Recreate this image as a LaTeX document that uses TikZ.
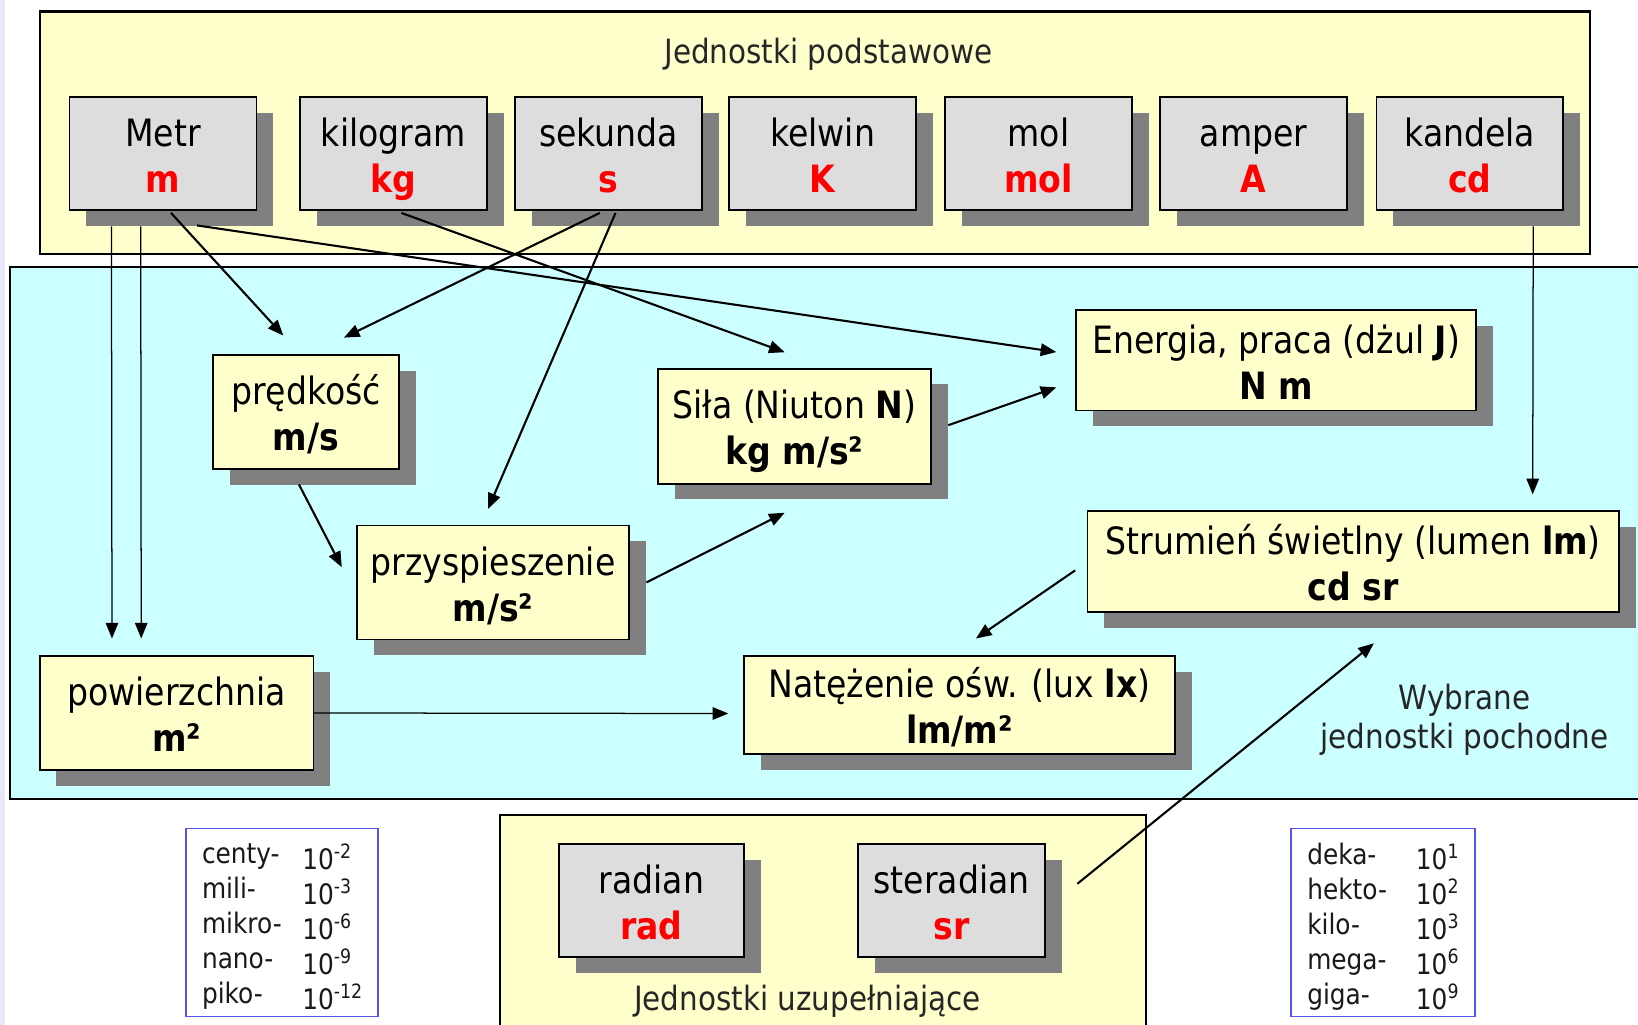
\documentclass[tikz,border=0pt]{standalone}
\usepackage{fontspec}
\setmainfont{DejaVu Sans}[FakeStretch=0.88]
\usetikzlibrary{arrows.meta,shadows,calc}
\definecolor{panelyellow}{HTML}{FFFFCC}
\definecolor{panelcyan}{HTML}{CCFFFF}
\definecolor{boxgray}{HTML}{DDDDDD}
\definecolor{shadowgray}{HTML}{808080}
\definecolor{unitred}{HTML}{FF0000}
\definecolor{prefixblue}{HTML}{5555EE}
\definecolor{edgestrip}{HTML}{E8E8FA}
\tikzset{
 shadowed/.style={drop shadow={shadow xshift=8pt, shadow yshift=-7.5pt, fill=shadowgray, opacity=1}},
 basebox/.style={rectangle, draw=black, line width=0.8pt, fill=boxgray, shadowed, minimum width=89.5pt, minimum height=54pt, inner sep=0pt, font=\fontsize{18}{22}\selectfont},
 derivbox/.style={rectangle, draw=black, line width=0.8pt, fill=panelyellow, shadowed, inner sep=0pt, font=\fontsize{18}{22}\selectfont},
 arr/.style={line width=1pt, -{Triangle[length=7.5pt,width=6pt]}},
 thinarr/.style={line width=0.6pt, -{Triangle[length=7.5pt,width=6pt]}},
 panel/.style={draw=black, line width=1pt},
 paneltitle/.style={font=\fontsize{16}{19}\selectfont, text=black!85, align=center, inner sep=0pt},
 prefixbox/.style={draw=prefixblue, line width=0.8pt, fill=white},
 prefixtext/.style={font=\fontsize{13.5}{16.75}\selectfont, align=left, inner sep=0pt, anchor=west, text=black!90},
}
\newcommand{\unitsym}[1]{\textcolor{unitred}{\textbf{#1}}}
\newcommand{\twolines}[2]{\raisebox{3.5pt}[0pt][0pt]{\begin{tabular}[t]{@{}c@{}}#1\\#2\end{tabular}}}
\begin{document}
\begin{tikzpicture}[x=0.5pt,y=-0.5pt]
\useasboundingbox (0,0) rectangle (1568,981);
\fill[white] (0,0) rectangle (1568,981);
\fill[edgestrip] (0,0) rectangle (5,981);
% panels
\draw[panel, fill=panelyellow] (38,11) rectangle (1522,243);
\draw[panel, fill=panelcyan] (10,256) rectangle (1580,765);
\draw[panel, fill=panelyellow] (479,780) rectangle (1097,995);
\node[paneltitle] (t-base) at (793,52) {Jednostki podstawowe};
\node[paneltitle] (t-deriv) at (1402,689) {Wybrane\\jednostki pochodne};
\node[paneltitle] (t-supp) at (773,958) {Jednostki uzupełniające};
% base units
\node[basebox] (metr) at (156,147) {\twolines{Metr}{\unitsym{m}}};
\node[basebox] (kg) at (376.5,147) {\twolines{kilogram}{\unitsym{kg}}};
\node[basebox] (sek) at (582.5,147) {\twolines{sekunda}{\unitsym{s}}};
\node[basebox] (kel) at (787.5,147) {\twolines{kelwin}{\unitsym{K}}};
\node[basebox] (mol) at (994,147) {\twolines{mol}{\unitsym{mol}}};
\node[basebox] (amp) at (1200,147) {\twolines{amper}{\unitsym{A}}};
\node[basebox] (cd) at (1407,147) {\twolines{kandela}{\unitsym{cd}}};
% derived units
\node[derivbox, minimum width=89pt, minimum height=54.5pt] (pred) at (293,394.5) {\twolines{prędkość}{\textbf{m/s}}};
\node[derivbox, minimum width=130pt, minimum height=54.5pt] (przy) at (472,557.5) {\twolines{przyspieszenie}{\textbf{m/s²}}};
\node[derivbox, minimum width=130.5pt, minimum height=55pt] (sila) at (760.5,408) {\twolines{Siła (Niuton \textbf{N})}{\textbf{kg m/s²}}};
\node[derivbox, minimum width=191.5pt, minimum height=48pt] (energ) at (1221.5,345) {\twolines{Energia, praca (dżul \textbf{J})}{\textbf{N m}}};
\node[derivbox, minimum width=254.5pt, minimum height=48.5pt] (strum) at (1295.5,537.5) {\twolines{Strumień świetlny (lumen \textbf{lm})}{\textbf{cd sr}}};
\node[derivbox, minimum width=206.5pt, minimum height=47pt] (nat) at (918.5,675) {\twolines{Natężenie ośw. (lux \textbf{lx})}{\textbf{lm/m²}}};
\node[derivbox, minimum width=131pt, minimum height=54.5pt] (pow) at (169,682.5) {\twolines{powierzchnia}{\textbf{m²}}};
% supplementary units
\node[basebox, minimum width=88.5pt] (rad) at (623.5,862) {\twolines{radian}{\unitsym{rad}}};
\node[basebox] (ster) at (911,862) {\twolines{steradian}{\unitsym{sr}}};
% prefix tables
\draw[prefixbox] (178,793) rectangle (362,973);
\draw[prefixbox] (1236,793) rectangle (1412,973);
\node[prefixtext] (pl-names) at (193,887) {centy-\\mili-\\mikro-\\nano-\\piko-};
\node[prefixtext] (pl-vals) at (289,887) {10\textsuperscript{-2}\\10\textsuperscript{-3}\\10\textsuperscript{-6}\\10\textsuperscript{-9}\\10\textsuperscript{-12}};
\node[prefixtext] (pr-names) at (1251,887) {deka-\\hekto-\\kilo-\\mega-\\giga-};
\node[prefixtext] (pr-vals) at (1355,887) {10\textsuperscript{1}\\10\textsuperscript{2}\\10\textsuperscript{3}\\10\textsuperscript{6}\\10\textsuperscript{9}};
% connectors
\draw[thinarr] ($(metr.south west)+(41,15)$) -- ($(pow.north west)+(70,-16)$);
\draw[thinarr] ($(metr.south west)+(69,15)$) -- ($(pow.north west)+(98,-16)$);
\draw[arr] ($(metr.south west)+(98,2)$) -- ($(pred.north west)+(68,-18)$);
\draw[arr] ($(metr.south west)+(123,14)$) -- ($(energ.west)+(-18,-8)$);
\draw[arr] ($(kg.south west)+(98,2)$) -- ($(sila.north west)+(122,-15)$);
\draw[arr] ($(sek.south west)+(82,2)$) -- ($(pred.north west)+(126,-16)$);
\draw[arr] ($(sek.south west)+(97,2)$) -- ($(przy.north west)+(126,-15)$);
\draw[arr] ($(pred.south west)+(83,14)$) -- ($(przy.west)+(-14,-14.5)$);
\draw[arr] ($(przy.east)+(16,0)$) -- ($(sila.south west)+(122,27)$);
\draw[arr] ($(sila.east)+(16,-1)$) -- ($(energ.south west)+(-18,-23)$);
\draw[thinarr] ($(cd.south west)+(151,15)$) -- ($(strum.north west)+(427,-15)$);
\draw[arr] ($(strum.west)+(-11,8.5)$) -- ($(nat.north west)+(223,-16)$);
\draw[thinarr] (pow.east) -- ($(nat.west)+(-14,8)$);
\draw[arr] ($(ster.east)+(30,-16)$) -- ($(strum.south west)+(275,29)$);
\end{tikzpicture}
\end{document}
